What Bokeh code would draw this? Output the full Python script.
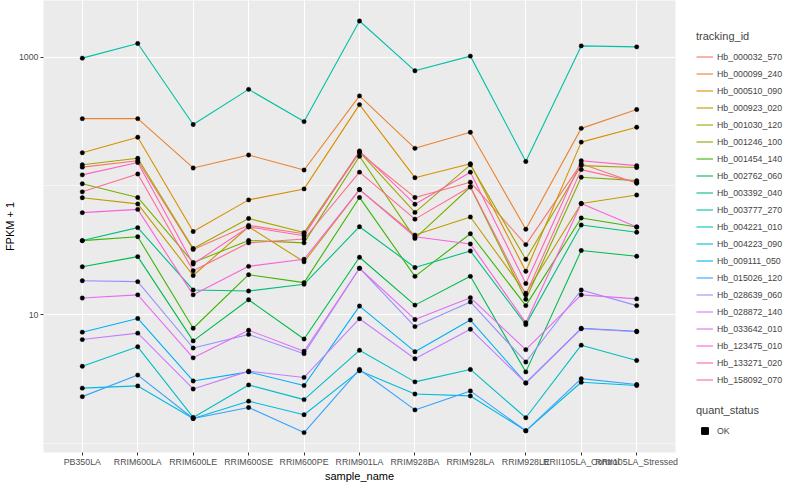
from bokeh.plotting import figure
from bokeh.layouts import row
from bokeh.models import (ColumnDataSource, FactorRange, Range1d, FixedTicker,
                          NumeralTickFormatter, Legend, LegendItem)
from bokeh.embed import file_html
from bokeh.resources import INLINE

samples = ["PB350LA", "RRIM600LA", "RRIM600LE", "RRIM600SE", "RRIM600PE",
           "RRIM901LA", "RRIM928BA", "RRIM928LA", "RRIM928LE",
           "RRII105LA_Control", "RRII105LA_Stressed"]

tracking_ids = ["Hb_000032_570", "Hb_000099_240", "Hb_000510_090", "Hb_000923_020",
                "Hb_001030_120", "Hb_001246_100", "Hb_001454_140", "Hb_002762_060",
                "Hb_003392_040", "Hb_003777_270", "Hb_004221_010", "Hb_004223_090",
                "Hb_009111_050", "Hb_015026_120", "Hb_028639_060", "Hb_028872_140",
                "Hb_033642_010", "Hb_123475_010", "Hb_133271_020", "Hb_158092_070"]

colors = ["#F8766D", "#EA8331", "#D89000", "#C09B00", "#A3A500", "#7CAE00",
          "#39B600", "#00BB4E", "#00BF7D", "#00C1A3", "#00BFC4", "#00BAE0",
          "#00B0F6", "#35A2FF", "#9590FF", "#C77CFF", "#E76BF3", "#FA62DB",
          "#FF62BC", "#FF6C91"]

# FPKM + 1 per sample (same order as samples)
Hb_000032_570 = [140, 157, 32.2, 49.5, 42.6, 181, 81.5, 107, 35.1, 149, 105]
Hb_000099_240 = [333, 333, 138, 174, 133, 500, 196, 261, 46.2, 280, 392]
Hb_000510_090 = [181, 239, 44.3, 78.0, 94.9, 428, 116, 149, 21.8, 219, 286]
Hb_000923_020 = [81.1, 72.6, 20.2, 48.3, 25.8, 93.8, 41.6, 57.5, 14.7, 73.1, 85.1]
Hb_001030_120 = [146, 164, 32.7, 56.0, 43.5, 184, 62.4, 146, 27.0, 144, 139]
Hb_001246_100 = [104, 81.5, 25.5, 37.8, 36.2, 170, 39.2, 98.2, 13.2, 117, 110]
Hb_001454_140 = [37.7, 40.4, 7.87, 20.5, 17.8, 81.5, 19.9, 42.6, 11.8, 56.5, 48.1]
Hb_002762_060 = [23.6, 28.3, 6.28, 13.1, 6.50, 28.0, 11.9, 19.9, 3.61, 31.6, 28.5]
Hb_003392_040 = [37.7, 47.5, 15.6, 15.3, 17.3, 48.3, 23.3, 31.3, 8.40, 49.8, 43.8]
Hb_003777_270 = [982, 1276, 300, 562, 316, 1906, 783, 1018, 155, 1222, 1201]
Hb_004221_010 = [3.99, 5.65, 1.60, 2.86, 2.20, 5.31, 3.02, 3.77, 1.59, 5.82, 4.43]
Hb_004223_090 = [2.70, 2.81, 1.57, 2.14, 1.68, 3.68, 2.43, 2.35, 1.26, 3.00, 2.83]
Hb_009111_050 = [7.34, 9.38, 3.07, 3.61, 2.83, 11.7, 5.18, 9.12, 2.96, 7.87, 7.47]
Hb_015026_120 = [2.32, 3.41, 1.57, 1.91, 1.22, 3.77, 1.83, 2.57, 1.26, 3.20, 2.88]
Hb_028639_060 = [18.4, 18.1, 5.53, 7.05, 5.00, 23.0, 8.11, 12.6, 4.31, 15.6, 11.8]
Hb_028872_140 = [6.43, 7.21, 2.66, 3.66, 3.27, 9.33, 4.56, 7.74, 2.96, 7.80, 7.40]
Hb_033642_010 = [13.5, 14.3, 4.64, 7.60, 5.22, 23.0, 9.21, 13.6, 5.37, 14.3, 13.3]
Hb_123475_010 = [62.1, 65.8, 14.3, 23.8, 27.0, 93.8, 40.4, 35.5, 8.70, 73.1, 48.1]
Hb_133271_020 = [122, 152, 24.8, 48.1, 41.1, 187, 72.2, 128, 17.5, 157, 144]
Hb_158092_070 = [90.1, 124, 22.0, 36.2, 38.8, 128, 55.3, 98.8, 14.3, 134, 107]

quant_status = "OK"

series = [Hb_000032_570, Hb_000099_240, Hb_000510_090, Hb_000923_020, Hb_001030_120,
          Hb_001246_100, Hb_001454_140, Hb_002762_060, Hb_003392_040, Hb_003777_270,
          Hb_004221_010, Hb_004223_090, Hb_009111_050, Hb_015026_120, Hb_028639_060,
          Hb_028872_140, Hb_033642_010, Hb_123475_010, Hb_133271_020, Hb_158092_070]

FONT = "Liberation Sans"

x_range = FactorRange(factors=samples, range_padding=0.2, range_padding_units="absolute")
y_range = Range1d(0.855, 2750)

p = figure(width=680, height=484, x_range=x_range, y_range=y_range,
           y_axis_type="log", output_backend="svg", toolbar_location=None,
           min_border_left=30, min_border_right=5, min_border_top=0,
           min_border_bottom=0)

p.background_fill_color = "#EBEBEB"
p.border_fill_color = "white"
p.outline_line_color = None

p.xgrid.grid_line_color = "white"
p.xgrid.grid_line_width = 1.1
p.ygrid.grid_line_color = "white"
p.ygrid.grid_line_width = 1.1
p.ygrid.minor_grid_line_color = "white"
p.ygrid.minor_grid_line_width = 0.55

p.yaxis.ticker = FixedTicker(ticks=[10, 1000], minor_ticks=[1, 100])
p.yaxis.formatter = NumeralTickFormatter(format="0")

for ax in (p.xaxis[0], p.yaxis[0]):
    ax.axis_line_color = None
    ax.major_tick_line_color = "#333333"
    ax.major_tick_out = 3
    ax.major_tick_in = 0
    ax.minor_tick_line_color = None
    ax.major_label_text_font = FONT
    ax.major_label_text_font_size = "8.8px"
    ax.major_label_text_color = "#4D4D4D"
    ax.major_label_standoff = 1
    ax.axis_label_text_font = FONT
    ax.axis_label_text_font_size = "11px"
    ax.axis_label_text_font_style = "normal"
    ax.axis_label_text_color = "black"
    ax.axis_label_standoff = 0

p.xaxis.axis_label = "sample_name"
p.yaxis.axis_label = "FPKM + 1"

# legend-only figure to the right of the panel
leg = figure(width=104, height=484, x_range=x_range, y_range=y_range,
             y_axis_type="log", output_backend="svg", toolbar_location=None,
             x_axis_location=None, y_axis_location=None,
             min_border=0)
leg.outline_line_color = None
leg.background_fill_color = "white"
leg.border_fill_color = "white"
leg.xgrid.visible = False
leg.ygrid.visible = False

legend_lines = []
for tid, col, vals in zip(tracking_ids, colors, series):
    src = ColumnDataSource(dict(x=samples, y=vals))
    p.line("x", "y", source=src, line_color=col, line_width=1.1)
    legend_lines.append(leg.line("x", "y", source=src, line_color=col,
                                 line_width=1.1, visible=False))

legend_points = None
for tid, vals in zip(tracking_ids, series):
    src = ColumnDataSource(dict(x=samples, y=vals, q=[quant_status] * len(samples)))
    p.scatter("x", "y", source=src, marker="circle", size=4.4,
              fill_color="black", line_color="black", line_width=0.4)
    if legend_points is None:
        legend_points = leg.scatter("x", "y", source=src, marker="square", size=3.5,
                                    fill_color="black", line_color="black",
                                    visible=False)

common = dict(background_fill_alpha=0, border_line_color=None,
              inactive_fill_alpha=0,
              label_text_font=FONT, label_text_font_size="8.8px",
              title_text_font=FONT, title_text_font_size="11px",
              title_text_font_style="normal",
              glyph_width=17, glyph_height=17, label_height=17, spacing=0,
              padding=0, margin=0, label_standoff=4, title_standoff=6)

legend1 = Legend(
    items=[LegendItem(label=tid, renderers=[r]) for tid, r in zip(tracking_ids, legend_lines)],
    title="tracking_id", location=(16, 64), **common)
leg.add_layout(legend1, "center")

legend2 = Legend(
    items=[LegendItem(label=quant_status, renderers=[legend_points])],
    title="quant_status", location=(16, 13), **common)
leg.add_layout(legend2, "center")

layout = row(p, leg)
open("out.html", "w").write(file_html(layout, INLINE))
